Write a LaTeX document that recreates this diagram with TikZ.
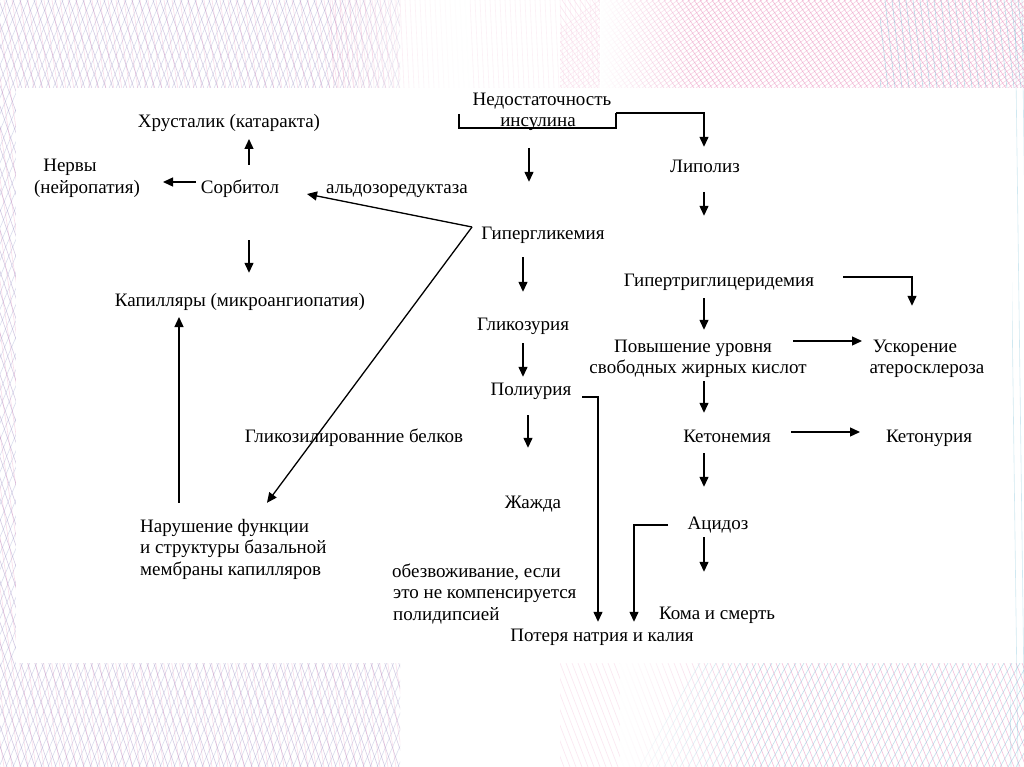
\documentclass[tikz,border=0pt]{standalone}
\usepackage{fontspec}
\setmainfont{Liberation Serif}
\usetikzlibrary{arrows.meta,fadings}
\definecolor{meshP}{RGB}{165,140,195}
\definecolor{meshK}{RGB}{232,120,175}
\definecolor{meshC}{RGB}{120,190,215}
\definecolor{meshB}{RGB}{150,160,205}
\begin{document}
\begin{tikzpicture}[x=1pt,y=-1pt,
  lbl/.style={inner sep=0pt, text height=13pt, text depth=4pt, anchor=base, font=\fontsize{19}{21.5}\selectfont},
  lblw/.style={lbl, anchor=base west},
  arr/.style={line width=1.3pt, -{Triangle[length=10pt,width=9pt]}},
  ln/.style={line width=1.1pt},
  fine/.style={line width=0.6pt},
]
\useasboundingbox (0,0) rectangle (1024,767);
% ---------- background ----------
\fill[white] (0,0) rectangle (1024,767);
\begin{scope}
  \clip (0,0) rectangle (400,767);
  \foreach \i in {-400,-393,...,700} \draw[fine,meshP,opacity=.45] (\i,0) -- ++(260,767);
  \foreach \i in {0,7,...,1000} \draw[fine,meshB,opacity=.35] (\i,0) -- ++(-330,767);
  \foreach \i in {-300,-292,...,500} \draw[fine,meshK,opacity=.25] (\i,0) -- ++(120,767);
\end{scope}
\begin{scope}
  \clip (330,0) rectangle (600,88);
  \foreach \i in {330,335,...,600} \draw[fine,meshK,opacity=.25] (\i,0) -- ++(4,88);
\end{scope}
\begin{scope}
  \clip (560,0) rectangle (1024,88);
  \foreach \i in {400,406,...,1100} \draw[fine,meshK,opacity=.5] (\i,0) -- ++(60,88);
  \foreach \i in {600,606,...,1300} \draw[fine,meshK,opacity=.35] (\i,0) -- ++(-120,88);
\end{scope}
\begin{scope}
  \clip (880,0) rectangle (1024,88);
  \foreach \i in {850,857,...,1100} \draw[fine,meshC,opacity=.5] (\i,0) -- ++(10,88);
\end{scope}
\begin{scope}
  \clip (560,663) rectangle (1024,767);
  \foreach \i in {500,506,...,1100} \draw[fine,meshK,opacity=.45] (\i,663) -- ++(40,104);
  \foreach \i in {700,708,...,1300} \draw[fine,meshC,opacity=.45] (\i,663) -- ++(-60,104);
\end{scope}
\begin{scope}
  \clip (1010,0) rectangle (1024,767);
  \foreach \i in {980,987,...,1100} \draw[fine,meshC,opacity=.35] (\i,0) -- ++(10,767);
\end{scope}
\fill[white,path fading=west] (330,0) rectangle (470,88);
\fill[white,opacity=.6] (470,0) rectangle (600,88);
\fill[white,path fading=east] (600,0) rectangle (700,88);
\fill[white,path fading=west] (380,663) rectangle (520,767);
\fill[white,opacity=.6] (520,663) rectangle (620,767);
\fill[white,path fading=east] (620,663) rectangle (760,767);
% white panel
\fill[white] (16,88) rectangle (1012,663);
% ---------- nodes ----------
\node[lbl] (nd) at (542,106) {Недостаточность};
\node[lbl] (ins) at (538,127) {инсулина};
\node[lbl] (lip) at (705,173) {Липолиз};
\node[lbl] (hrus) at (229,128) {Хрусталик (катаракта)};
\node[lbl] (nerv1) at (70,172) {Нервы};
\node[lbl] (nerv2) at (87,194) {(нейропатия)};
\node[lbl] (sorb) at (240,194) {Сорбитол};
\node[lbl] (aldo) at (397,194) {альдозоредуктаза};
\node[lbl] (gg) at (543,240) {Гипергликемия};
\node[lbl] (gtg) at (719,286) {Гипертриглицеридемия};
\node[lbl] (kap) at (240,306) {Капилляры (микроангиопатия)};
\node[lbl] (glz) at (523,330) {Гликозурия};
\node[lbl] (pov1) at (693,352) {Повышение уровня};
\node[lbl] (pov2) at (698,373) {свободных жирных кислот};
\node[lbl] (usk1) at (915,352) {Ускорение};
\node[lbl] (usk2) at (927,373) {атеросклероза};
\node[lbl] (pol) at (531,395) {Полиурия};
\node[lbl] (glk) at (354,442) {Гликозилированние белков};
\node[lbl] (ket) at (727,442) {Кетонемия};
\node[lbl] (ketu) at (929,442) {Кетонурия};
\node[lbl] (zh) at (533,508) {Жажда};
\node[lblw] (nar1) at (140,532) {Нарушение функции};
\node[lblw] (nar2) at (140,553.5) {и структуры базальной};
\node[lblw] (nar3) at (140,575) {мембраны капилляров};
\node[lbl] (acid) at (718,529) {Ацидоз};
\node[lblw] (obz1) at (392,577) {обезвоживание, если};
\node[lblw] (obz2) at (393,598.5) {это не компенсируется};
\node[lblw] (obz3) at (393,620) {полидипсией};
\node[lbl] (koma) at (717,619) {Кома и смерть};
\node[lbl] (pot) at (602,641) {Потеря натрия и калия};
% ---------- connectors ----------
\draw[ln] ([xshift=-79pt,yshift=13pt]ins.base) |- ([xshift=78pt,yshift=-1pt]ins.base) -- ([xshift=78pt,yshift=14pt]ins.base);
\draw[arr] ([xshift=78pt,yshift=14pt]ins.base) -| ([xshift=-1pt,yshift=13pt]lip.north);
\draw[arr] ([xshift=-9pt,yshift=-21pt]ins.base) -- ([xshift=-14pt,yshift=45pt]gg.north);
\draw[arr] ([xshift=-1pt,yshift=-19pt]lip.base) -- ([xshift=-15pt,yshift=57pt]gtg.north);
\draw[arr] ([xshift=-15pt,yshift=-12pt]gtg.base) -- ([xshift=11pt,yshift=9pt]pov1.north);
\draw[arr] ([xshift=124pt,yshift=9pt]gtg.base) -| ([xshift=-3pt,yshift=33pt]usk1.north);
\draw[arr] ([xshift=100pt,yshift=11pt]pov1.base) -- ([xshift=-53pt,yshift=11pt]usk1.base);
\draw[arr] ([xshift=6pt,yshift=-8pt]pov2.base) -- ([xshift=-23pt,yshift=16pt]ket.north);
\draw[arr] ([xshift=64pt,yshift=10pt]ket.base) -- ([xshift=-69pt,yshift=10pt]ketu.base);
\draw[arr] ([xshift=-23pt,yshift=-11pt]ket.base) -- ([xshift=-14pt,yshift=29pt]acid.north);
\draw[arr] ([xshift=-14pt,yshift=-8pt]acid.base) -- ([xshift=-13pt,yshift=34pt]koma.north);
\draw[arr] ([xshift=-50pt,yshift=4pt]acid.base) -| ([xshift=32pt,yshift=6pt]pot.north);
\draw[arr] ([xshift=51pt,yshift=-2pt]pol.base) -| ([xshift=-4pt,yshift=6pt]pot.north);
\draw[arr] ([xshift=-20pt,yshift=-17pt]gg.base) -- ([yshift=25pt]glz.north);
\draw[arr] ([yshift=-13pt]glz.base) -- ([xshift=-8pt,yshift=5pt]pol.north);
\draw[arr] ([xshift=-3pt,yshift=-20pt]pol.base) -- ([xshift=-5pt,yshift=47pt]zh.north);
\draw[arr] ([xshift=-71pt,yshift=13pt]gg.base) -- ([xshift=67pt]sorb.base);
\draw[arr] ([xshift=-71pt,yshift=13pt]gg.base) -- ([xshift=127pt,yshift=16pt]nar1.north west);
\draw[arr] ([xshift=9pt,yshift=29pt]sorb.base) -- ([xshift=20pt,yshift=-11pt]hrus.base);
\draw[arr] ([xshift=-44pt,yshift=12pt]sorb.base) -- ([xshift=76pt,yshift=12pt]nerv2.base);
\draw[arr] ([xshift=9pt,yshift=-46pt]sorb.base) -- ([xshift=9pt,yshift=20pt]kap.north);
\draw[arr] ([xshift=39pt,yshift=16pt]nar1.north west) -- ([xshift=-61pt,yshift=-11pt]kap.base);
\end{tikzpicture}
\end{document}
